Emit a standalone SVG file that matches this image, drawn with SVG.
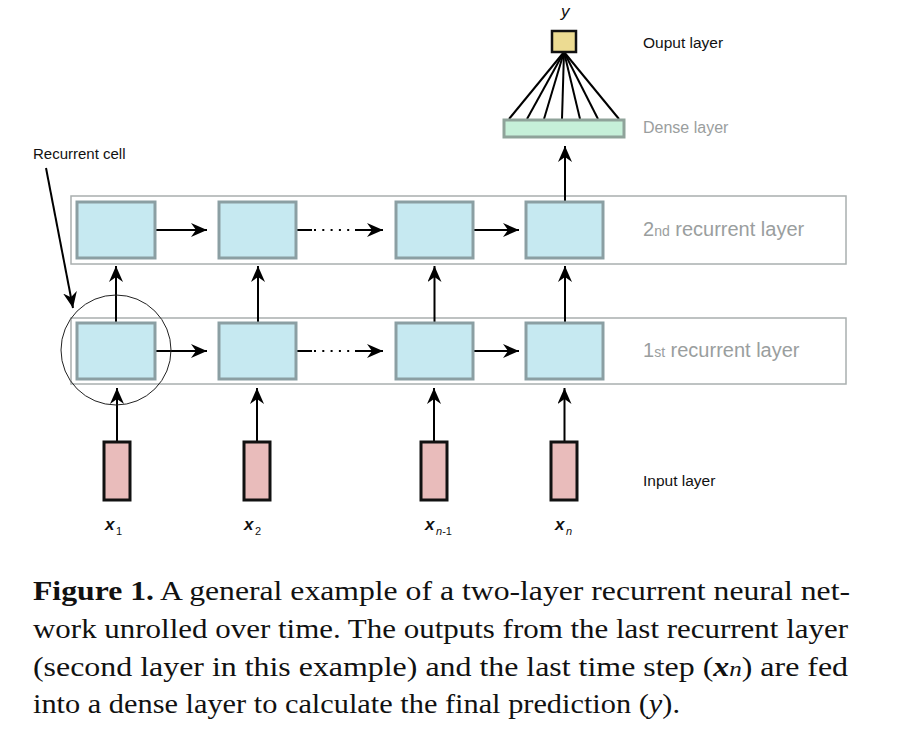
<svg xmlns="http://www.w3.org/2000/svg" width="906" height="746" viewBox="0 0 906 746">
<style>
.cell{fill:#c6e9f1;stroke:#8b9fa3;stroke-width:3}
.inp{fill:#e9bcbb;stroke:#111;stroke-width:3}
.cont{fill:none;stroke:#a9afaf;stroke-width:1.5}
.ln{stroke:#000;stroke-width:2;fill:none}
.lbl{font-family:"Liberation Sans",Arial,sans-serif;font-size:15.5px;fill:#111}
.glbl{font-family:"Liberation Sans",Arial,sans-serif;font-size:20px;fill:#9a9e9e}
.xl{font-family:"Liberation Sans",Arial,sans-serif;font-size:17px;font-weight:bold;font-style:italic;fill:#111}
.sub{font-family:"Liberation Sans",Arial,sans-serif;font-size:11px;fill:#111}
.cap{font-family:"Liberation Serif","Times New Roman",serif;font-size:28px;fill:#111}
</style>
<defs>
<marker id="ah" markerUnits="userSpaceOnUse" markerWidth="18" markerHeight="14" refX="16" refY="7" orient="auto">
<path d="M0,0 L16,7 L0,14 L5,7 z" fill="#000"/>
</marker>
</defs>
<rect width="906" height="746" fill="#fff"/>

<g id="layer2-container"><rect class="cont" x="71" y="196" width="775" height="68"/>
<text class="glbl" x="643" y="236">2<tspan font-size="14">nd</tspan> recurrent layer</text></g>
<g id="layer1-container"><rect class="cont" x="71" y="318" width="775" height="66"/>
<text class="glbl" x="643" y="357">1<tspan font-size="14">st</tspan> recurrent layer</text></g>

<g id="connectors">
<line class="ln" x1="155" y1="230" x2="207" y2="230" marker-end="url(#ah)"/>
<line class="ln" x1="297" y1="230" x2="312" y2="230"/>
<line class="ln" x1="314" y1="230" x2="352" y2="230" stroke-dasharray="2 6.3"/>
<line class="ln" x1="355" y1="230" x2="383" y2="230" marker-end="url(#ah)"/>
<line class="ln" x1="473" y1="230" x2="519" y2="230" marker-end="url(#ah)"/>
<line class="ln" x1="155" y1="351" x2="207" y2="351" marker-end="url(#ah)"/>
<line class="ln" x1="297" y1="351" x2="312" y2="351"/>
<line class="ln" x1="314" y1="351" x2="352" y2="351" stroke-dasharray="2 6.3"/>
<line class="ln" x1="355" y1="351" x2="383" y2="351" marker-end="url(#ah)"/>
<line class="ln" x1="473" y1="351" x2="519" y2="351" marker-end="url(#ah)"/>
<line class="ln" x1="116" y1="322" x2="116" y2="266" marker-end="url(#ah)"/>
<line class="ln" x1="258" y1="322" x2="258" y2="266" marker-end="url(#ah)"/>
<line class="ln" x1="434.5" y1="322" x2="434.5" y2="266" marker-end="url(#ah)"/>
<line class="ln" x1="565" y1="322" x2="565" y2="266" marker-end="url(#ah)"/>
<line class="ln" x1="117" y1="442" x2="117" y2="388" marker-end="url(#ah)"/>
<line class="ln" x1="257" y1="442" x2="257" y2="388" marker-end="url(#ah)"/>
<line class="ln" x1="434" y1="442" x2="434" y2="388" marker-end="url(#ah)"/>
<line class="ln" x1="564.5" y1="442" x2="564.5" y2="388" marker-end="url(#ah)"/>
<line class="ln" x1="565" y1="201" x2="565" y2="146" marker-end="url(#ah)"/>
<line class="ln" x1="46" y1="168" x2="73" y2="308" marker-end="url(#ah)"/>
<g class="ln">
<line x1="564" y1="52" x2="509" y2="119"/>
<line x1="564" y1="52" x2="527" y2="119"/>
<line x1="564" y1="52" x2="544" y2="119"/>
<line x1="564" y1="52" x2="562" y2="119"/>
<line x1="564" y1="52" x2="580" y2="119"/>
<line x1="564" y1="52" x2="598" y2="119"/>
<line x1="564" y1="52" x2="619" y2="119"/>
</g>
</g>

<g id="l2c1"><rect class="cell" x="77" y="202" width="78" height="56"/></g>
<g id="l2c2"><rect class="cell" x="219" y="202" width="77" height="56"/></g>
<g id="l2c3"><rect class="cell" x="396" y="202" width="77" height="56"/></g>
<g id="l2c4"><rect class="cell" x="526" y="202" width="77" height="56"/></g>
<g id="l1c1"><rect class="cell" x="77" y="323" width="78" height="56"/></g>
<g id="l1c2"><rect class="cell" x="219" y="323" width="77" height="56"/></g>
<g id="l1c3"><rect class="cell" x="396" y="323" width="77" height="56"/></g>
<g id="l1c4"><rect class="cell" x="526" y="323" width="77" height="56"/></g>

<g id="recurrent-cell"><circle cx="116" cy="350" r="55" fill="none" stroke="#222" stroke-width="1"/>
<text class="lbl" x="33" y="159" style="font-size:15px">Recurrent cell</text></g>

<g id="in1"><rect class="inp" x="104" y="442" width="26" height="58"/>
<text class="xl" x="105" y="530">x</text><text class="sub" x="116" y="535">1</text></g>
<g id="in2"><rect class="inp" x="244" y="442" width="26" height="58"/>
<text class="xl" x="244" y="530">x</text><text class="sub" x="255" y="535">2</text></g>
<g id="in3"><rect class="inp" x="421" y="442" width="26" height="58"/>
<text class="xl" x="425" y="530">x</text><text class="sub" x="436" y="535"><tspan font-style="italic">n</tspan>-1</text></g>
<g id="in4"><rect class="inp" x="551" y="442" width="26" height="58"/>
<text class="xl" x="555" y="530">x</text><text class="sub" x="566" y="535" font-style="italic">n</text></g>
<text class="lbl" x="643" y="486">Input layer</text>

<g id="dense"><rect x="504" y="120" width="120" height="17" fill="#c6f0d9" stroke="#8fa39a" stroke-width="3"/>
<text class="lbl" x="643" y="133" style="fill:#9a9e9e;font-size:16px">Dense layer</text></g>
<g id="output"><rect x="552" y="31" width="24" height="21" fill="#ecdb92" stroke="#111" stroke-width="2.5"/>
<text x="561" y="17" font-family="Liberation Sans,Arial,sans-serif" font-size="17" font-style="italic" fill="#111">y</text>
<text class="lbl" x="643" y="48">Ouput layer</text></g>

<g id="caption">
<text class="cap" x="33" y="600" textLength="817" lengthAdjust="spacingAndGlyphs"><tspan font-weight="bold">Figure 1.</tspan> A general example of a two-layer recurrent neural net-</text>
<text class="cap" x="33" y="638" textLength="815" lengthAdjust="spacingAndGlyphs">work unrolled over time. The outputs from the last recurrent layer</text>
<text class="cap" x="33" y="676" textLength="815" lengthAdjust="spacingAndGlyphs">(second layer in this example) and the last time step (<tspan font-weight="bold" font-style="italic">x</tspan><tspan font-style="italic" font-size="22">n</tspan>) are fed</text>
<text class="cap" x="33" y="713" textLength="647" lengthAdjust="spacingAndGlyphs">into a dense layer to calculate the final prediction (<tspan font-style="italic">y</tspan>).</text>
</g>
</svg>
